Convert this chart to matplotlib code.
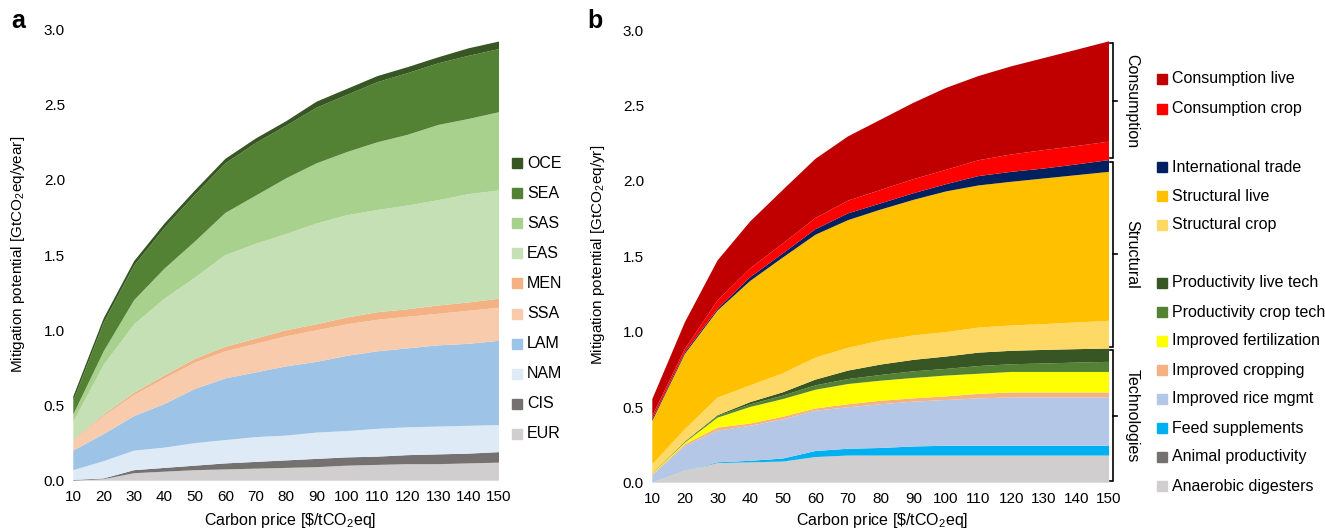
import numpy as np
import matplotlib
matplotlib.use("Agg")
import matplotlib.pyplot as plt
from matplotlib.patches import Rectangle

plt.rcParams['font.family'] = ['Liberation Sans', 'DejaVu Sans']
plt.rcParams['mathtext.fontset'] = 'custom'
plt.rcParams['mathtext.rm'] = 'Liberation Sans'

# Carbon price steps
price = [10, 20, 30, 40, 50, 60, 70, 80, 90, 100, 110, 120, 130, 140, 150]

# Panel a: mitigation by region (GtCO2eq/yr), bottom to top
eur = [0.00, 0.01, 0.05, 0.06, 0.07, 0.075, 0.08, 0.085, 0.09, 0.10, 0.105, 0.11, 0.11, 0.115, 0.12]
cis = [0.005, 0.005, 0.02, 0.025, 0.03, 0.04, 0.045, 0.05, 0.055, 0.055, 0.055, 0.06, 0.065, 0.065, 0.07]
nam = [0.065, 0.115, 0.13, 0.135, 0.15, 0.155, 0.165, 0.165, 0.175, 0.175, 0.185, 0.185, 0.185, 0.185, 0.18]
lam = [0.13, 0.18, 0.23, 0.29, 0.36, 0.41, 0.43, 0.46, 0.47, 0.50, 0.515, 0.525, 0.54, 0.545, 0.56]
ssa = [0.065, 0.12, 0.14, 0.17, 0.175, 0.18, 0.19, 0.20, 0.21, 0.21, 0.21, 0.21, 0.21, 0.22, 0.22]
men = [0.005, 0.01, 0.015, 0.02, 0.025, 0.03, 0.035, 0.04, 0.04, 0.045, 0.05, 0.05, 0.055, 0.055, 0.06]
eas = [0.12, 0.33, 0.455, 0.51, 0.54, 0.61, 0.63, 0.64, 0.67, 0.68, 0.68, 0.69, 0.70, 0.72, 0.72]
sas = [0.05, 0.09, 0.16, 0.20, 0.24, 0.28, 0.32, 0.37, 0.40, 0.42, 0.45, 0.47, 0.50, 0.50, 0.52]
sea = [0.09, 0.19, 0.23, 0.27, 0.31, 0.33, 0.35, 0.35, 0.37, 0.38, 0.40, 0.41, 0.41, 0.42, 0.42]
oce = [0.03, 0.03, 0.03, 0.03, 0.03, 0.03, 0.03, 0.03, 0.04, 0.04, 0.04, 0.04, 0.04, 0.05, 0.05]

regions = ['EUR', 'CIS', 'NAM', 'LAM', 'SSA', 'MEN', 'EAS', 'SAS', 'SEA', 'OCE']
region_colors = ['#d0cece', '#767171', '#deebf7', '#9dc3e6', '#f8cbad',
                 '#f4b183', '#c5e0b4', '#a9d18e', '#548235', '#375623']

# Panel b: mitigation by measure, bottom to top
anaerobic = [0.00, 0.08, 0.13, 0.135, 0.14, 0.17, 0.18, 0.18, 0.18, 0.18, 0.18, 0.18, 0.18, 0.18, 0.18]
animal = [0.0] * 15
feed = [0.00, 0.00, 0.005, 0.01, 0.02, 0.04, 0.045, 0.05, 0.06, 0.065, 0.065, 0.065, 0.065, 0.065, 0.065]
rice = [0.05, 0.165, 0.21, 0.232, 0.26, 0.267, 0.275, 0.29, 0.297, 0.303, 0.314, 0.32, 0.32, 0.32, 0.32]
cropping = [0.005, 0.01, 0.02, 0.015, 0.017, 0.015, 0.02, 0.023, 0.022, 0.024, 0.03, 0.033, 0.033, 0.033, 0.033]
fertil = [0.005, 0.011, 0.066, 0.11, 0.117, 0.124, 0.134, 0.133, 0.135, 0.138, 0.133, 0.136, 0.136, 0.136, 0.136]
crop_tech = [0.0, 0.002, 0.011, 0.017, 0.023, 0.029, 0.033, 0.038, 0.044, 0.044, 0.051, 0.051, 0.056, 0.062, 0.067]
live_tech = [0.002, 0.005, 0.005, 0.015, 0.022, 0.038, 0.056, 0.069, 0.076, 0.082, 0.089, 0.089, 0.09, 0.089, 0.088]
struct_crop = [0.06, 0.082, 0.117, 0.111, 0.126, 0.146, 0.151, 0.159, 0.162, 0.162, 0.166, 0.168, 0.171, 0.177, 0.184]
struct_live = [0.288, 0.499, 0.577, 0.692, 0.767, 0.814, 0.846, 0.868, 0.898, 0.932, 0.942, 0.952, 0.965, 0.976, 0.987]
trade = [0.011, 0.011, 0.011, 0.025, 0.027, 0.037, 0.045, 0.041, 0.044, 0.048, 0.062, 0.066, 0.066, 0.071, 0.078]
cons_crop = [0.022, 0.022, 0.055, 0.059, 0.066, 0.074, 0.084, 0.089, 0.093, 0.095, 0.105, 0.115, 0.122, 0.122, 0.122]
cons_live = [0.111, 0.177, 0.266, 0.31, 0.355, 0.392, 0.426, 0.466, 0.506, 0.543, 0.558, 0.584, 0.61, 0.638, 0.665]

measures = ['Anaerobic digesters', 'Animal productivity', 'Feed supplements',
            'Improved rice mgmt', 'Improved cropping', 'Improved fertilization',
            'Productivity crop tech', 'Productivity live tech', 'Structural crop',
            'Structural live', 'International trade', 'Consumption crop',
            'Consumption live']
measure_colors = ['#d0cece', '#767171', '#00b0f0', '#b4c7e7', '#f4b183', '#ffff00',
                  '#548235', '#375623', '#ffd966', '#ffc000', '#002060', '#ff0000',
                  '#c00000']

W, H = 1325, 531
fig = plt.figure(figsize=(W / 100, H / 100), dpi=100)


def px_axes(x0, x1, y_top, y_bot):
    return fig.add_axes([x0 / W, 1 - y_bot / H, (x1 - x0) / W, (y_bot - y_top) / H])


def style(ax):
    ax.set_xlim(10, 150)
    ax.set_ylim(0, 3)
    ax.set_xticks(price)
    ax.set_yticks(np.arange(0, 3.01, 0.5))
    ax.yaxis.set_major_formatter(matplotlib.ticker.FormatStrFormatter('%.1f'))
    ax.tick_params(length=0, labelsize=11, pad=6)
    ax.tick_params(axis='x', pad=7)
    for s in ax.spines.values():
        s.set_visible(False)


ax1 = px_axes(73.3, 499, 29.5, 480.7)
ax1.stackplot(price, eur, cis, nam, lam, ssa, men, eas, sas, sea, oce,
              colors=region_colors, linewidth=0)
style(ax1)

ax2 = px_axes(652.3, 1109, 30, 482.7)
layers_b = [anaerobic, animal, feed, rice, cropping, fertil, crop_tech, live_tech,
            struct_crop, struct_live, trade, cons_crop, cons_live]
ax2.stackplot(price, *layers_b, colors=measure_colors, linewidth=0)
style(ax2)

# axis labels
lab = dict(fontsize=11, ha='center', va='center')
fig.text(18.5 / W, 1 - 254 / H, r'Mitigation potential [GtCO$_2$eq/year]', rotation=90, **lab)
fig.text(598 / W, 1 - 255 / H, r'Mitigation potential [GtCO$_2$eq/yr]', rotation=90, **lab)
fig.text(290 / W, 1 - 520 / H, r'Carbon price [\$/tCO$_2$eq]', fontsize=11.5, ha='center', va='center')
fig.text(882 / W, 1 - 521 / H, r'Carbon price [\$/tCO$_2$eq]', fontsize=11.5, ha='center', va='center')
fig.text(11 / W, 1 - 21 / H, 'a', fontsize=18, fontweight='bold', ha='left', va='center')
fig.text(587 / W, 1 - 21 / H, 'b', fontsize=18, fontweight='bold', ha='left', va='center')


def legend_entry(xm, y, color, text):
    s = 10
    fig.patches.append(Rectangle(((xm - s / 2) / W, 1 - (y + s / 2) / H), s / W, s / H,
                                 transform=fig.transFigure, color=color, figure=fig))
    fig.text((xm + 10) / W, 1 - y / H, text, fontsize=11.5, ha='left', va='center')


# panel a legend (top to bottom)
for i, (name, col) in enumerate(zip(regions[::-1], region_colors[::-1])):
    legend_entry(517, 163 + i * 30.1, col, name)

# panel b legend with group gaps
rows_b = [79, 109, 167, 196, 225, 283, 312, 341, 370, 399, 428, 457, 486]
for y, name, col in zip(rows_b, measures[::-1], measure_colors[::-1]):
    legend_entry(1162, y, col, name)

# group brackets on panel b, spanning the stacked totals at the last price
tot = np.cumsum(np.array(layers_b), axis=0)[:, -1]
groups = [('Technologies', 0.0, tot[7]), ('Structural', tot[7], tot[10]),
          ('Consumption', tot[10], tot[12])]
xb = 151.3
for name, lo, hi in groups:
    g = 0.012
    ax2.plot([150.4, xb, xb, 150.4], [lo + g, lo + g, hi - g, hi - g],
             color='black', lw=1.2, clip_on=False, solid_joinstyle='miter')
    mid = (lo + hi) / 2
    ax2.plot([xb, xb + 1.1], [mid, mid], color='black', lw=1.2, clip_on=False)
    ax2.text(xb + 5.7, mid, name, rotation=-90, fontsize=11.5, ha='center', va='center')

fig.savefig('out.png', dpi=100)
